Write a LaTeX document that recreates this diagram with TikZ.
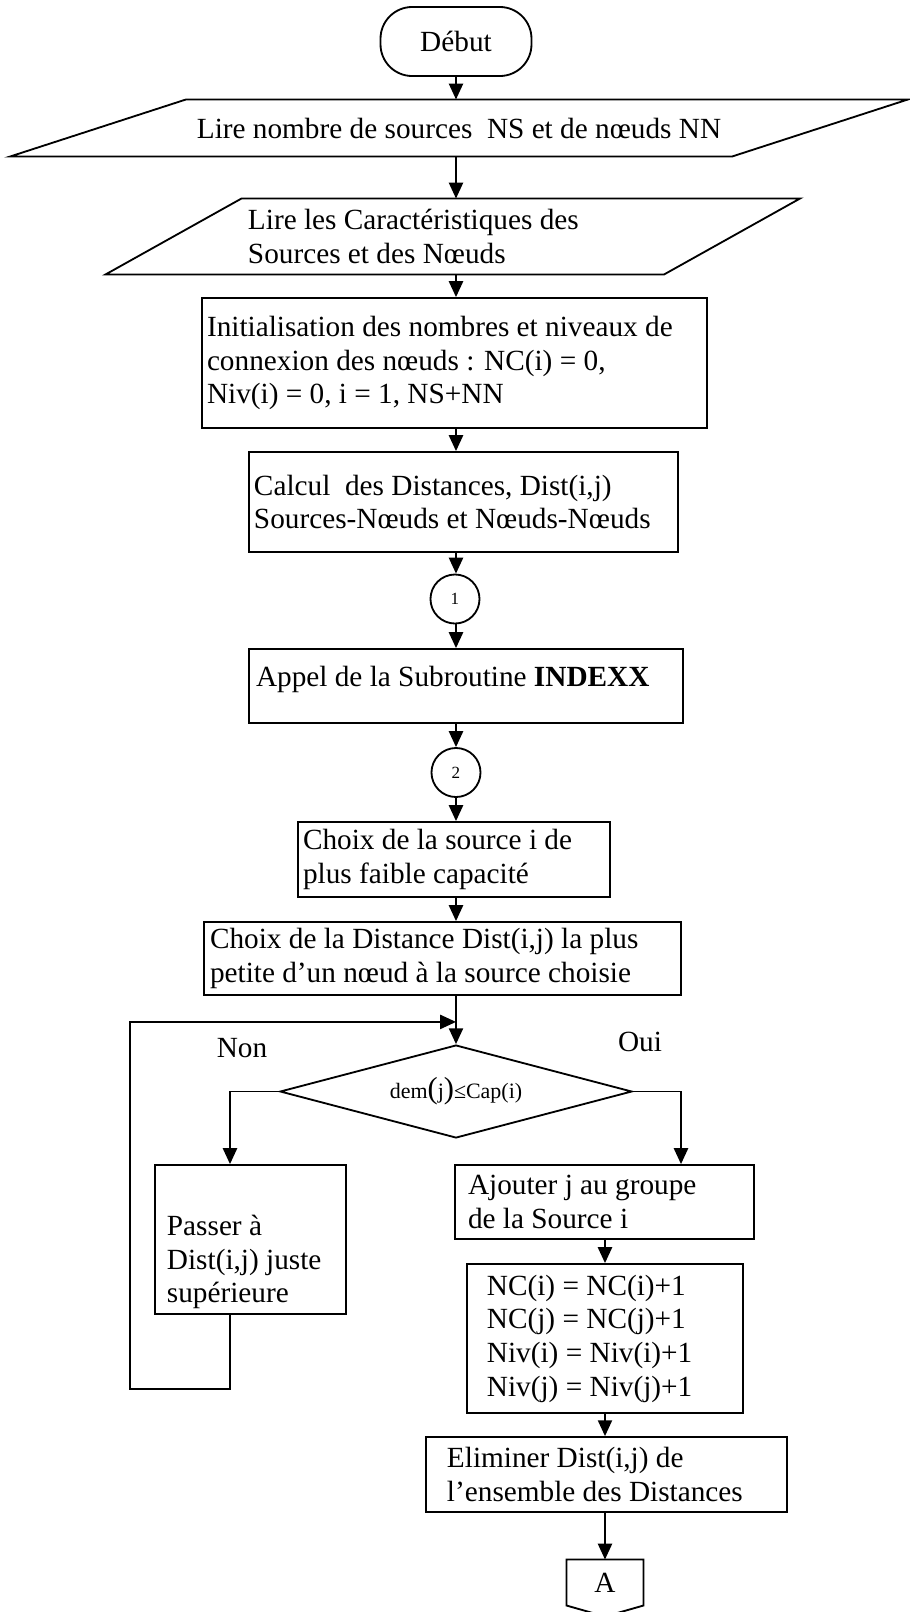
\documentclass[tikz,border=0pt]{standalone}
\usepackage{fontspec}
\setmainfont{Liberation Serif}
\usetikzlibrary{shapes.geometric, arrows.meta, calc}

% grandes parenthèses du test
\newcommand{\grandpar}[1]{{\fontsize{12.5}{12.5}\selectfont #1}}

\tikzset{
  every node/.style={font=\fontsize{12}{13.8}\selectfont},
  trait/.style={line width=0.75pt},
  fleche/.style={trait, -{Triangle[length=6.5pt, width=5.8pt]}},
  terminal/.style={draw, trait, rounded corners=13pt, minimum width=61.9pt, minimum height=28.3pt, inner sep=0pt},
  lecture/.style={inner sep=0pt},
  boite/.style n args={3}{draw, trait, align=flush left, inner ysep=0pt, text width=#1, inner xsep=#2, minimum height=#3},
  connecteur/.style={draw, trait, circle, minimum size=20.1pt, inner sep=0pt, font=\fontsize{7}{8}\selectfont},
  decision/.style={draw, trait, diamond, aspect=3.8, minimum width=144.3pt, minimum height=38.1pt, inner sep=0pt, font=\fontsize{9}{10}\selectfont},
}

\begin{document}
\begin{tikzpicture}[x=0.41pt, y=-0.41pt]
    \useasboundingbox (0,0) rectangle (910,1612);

    % Debut
    \node[terminal] (debut) at (456,41.5) {Début};

    % Lecture des donnees
    \node[lecture, minimum width=295.6pt, minimum height=23pt] (nombre) at (459,128)
        {Lire nombre de sources\ \ NS et de nœuds NN};
    \draw[trait] ($(nombre.north west)+(88,0)$) -- ($(nombre.north east)+(88,0)$)
        -- ($(nombre.south east)+(-88,0)$) -- ($(nombre.south west)+(-88,0)$) -- cycle;

    \node[lecture, align=flush left, text width=167.9pt, inner xsep=30.3pt, minimum width=228.6pt, minimum height=30.75pt]
        (carac) at (452.75,236.5) {Lire les Caractéristiques des\\Sources et des Nœuds};
    \draw[trait] ($(carac.north west)+(68,0)$) -- ($(carac.north east)+(68,0)$)
        -- ($(carac.south east)+(-68,0)$) -- ($(carac.south west)+(-68,0)$) -- cycle;

    % Initialisation et distances
    \node[boite={202.95pt}{2.05pt}{53.3pt}] (init) at (454.5,363)
        {Initialisation des nombres et niveaux de\\connexion des nœuds : NC(i) = 0,\\Niv(i) = 0, i = 1, NS+NN};
    \node[boite={171.8pt}{2.05pt}{41pt}] (calcul) at (463.5,502)
        {Calcul\ \ des Distances, Dist(i,j)\\Sources-Nœuds et Nœuds-Nœuds};
    \node[connecteur] (c1) at (455,599) {1};
    \node[boite={172.2pt}{2.87pt}{30.34pt}, text depth=7.6pt] (appel) at (466,686)
        {Appel de la Subroutine \textbf{INDEXX}};
    \node[connecteur] (c2) at (456,772.5) {2};

    % Choix de la source et de la distance
    \node[boite={123.8pt}{2.05pt}{30.75pt}] (source) at (454,859.5)
        {Choix de la source i de\\plus faible capacité};
    \node[boite={190.65pt}{2.46pt}{29.93pt}] (distance) at (442.5,958.5)
        {Choix de la Distance Dist(i,j) la plus\\petite d’un nœud à la source choisie};

    % Test de capacite
    \node[decision] (test) at (456,1091.5) {dem\grandpar{(}j\grandpar{)}≤Cap(i)};
    \node (non) at (242,1048) {Non};
    \node (oui) at (640,1042) {Oui};

    \node[boite={68.5pt}{4.92pt}{61.1pt}, text depth=11.6pt] (passer) at (250.5,1239.5)
        {Passer à\\Dist(i,j) juste\\supérieure};
    \node[boite={111.9pt}{5.33pt}{30.34pt}] (ajout) at (604.5,1202)
        {Ajouter j au groupe\\de la Source i};
    \node[boite={96.8pt}{8.2pt}{61.1pt}] (nc) at (605,1338.5)
        {NC(i) = NC(i)+1\\NC(j) = NC(j)+1\\Niv(i) = Niv(i)+1\\Niv(j) = Niv(j)+1};
    \node[boite={130.8pt}{8.61pt}{30.75pt}] (elim) at (606.5,1474.5)
        {Eliminer Dist(i,j) de\\l’ensemble des Distances};

    % Renvoi A
    \node[lecture, minimum width=31.2pt, minimum height=18.45pt] (renvoi) at (605,1582.5) {A};
    \draw[trait] (renvoi.north west) -- (renvoi.north east) -- (renvoi.south east)
        -- ($(renvoi.south)+(0,11)$) -- (renvoi.south west) -- cycle;

    % Fleches
    \draw[fleche] (debut.south) -- (debut.south |- nombre.north);
    \draw[fleche] (nombre.south -| debut) -- (carac.north -| debut);
    \draw[fleche] (carac.south -| debut) -- (init.north -| debut);
    \draw[fleche] (init.south -| debut) -- (calcul.north -| debut);
    \draw[fleche] (calcul.south -| debut) -- (c1.north -| debut);
    \draw[fleche] (c1.south -| debut) -- (appel.north -| debut);
    \draw[fleche] (appel.south -| debut) -- (c2.north -| debut);
    \draw[fleche] (c2.south -| debut) -- (source.north -| debut);
    \draw[fleche] (source.south -| debut) -- (distance.north -| debut);
    \draw[fleche] (distance.south -| debut) -- (test.north);

    \draw[fleche] (test.west) -| ($(passer.north)+(-20.5,0)$);
    \draw[fleche] (test.east) -| ($(ajout.north)+(76.5,0)$);
    \draw[fleche] (ajout.south -| nc) -- (nc.north);
    \draw[fleche] (nc.south) -- (elim.north -| nc);
    \draw[fleche] (elim.south -| nc) -- (renvoi.north -| nc);

    % Boucle vers le test
    \path (distance.south -| debut) ++(0,26) coordinate (retour);
    \draw[fleche] ($(passer.south)+(-20.5,0)$) -- ++(0,74) -- ++(-100,0) |- (retour);
\end{tikzpicture}
\end{document}
